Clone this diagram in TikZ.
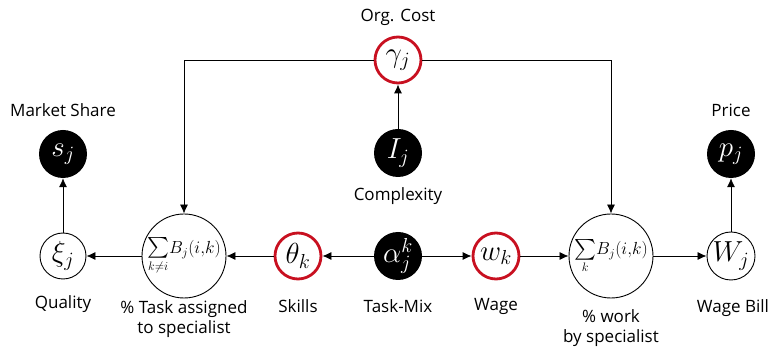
\documentclass[tikz,border=0pt]{standalone}
\usepackage{fix-cm}
\usepackage{amsmath}
\usepackage{fontspec}
\setmainfont{Open Sans}
\usetikzlibrary{arrows.meta}
\definecolor{ringred}{RGB}{200,16,32}
\begin{document}
\begin{tikzpicture}[x=1pt,y=-1pt,
  lbl/.style={font=\fontsize{17}{19}\selectfont, align=center, inner sep=0pt},
  mth/.style={font=\fontsize{29}{31}\selectfont},
  plain/.style={circle, draw=black, line width=0.9pt, minimum size=#1, inner sep=0pt, mth},
  plain/.default=46,
  redring/.style={circle, draw=ringred, line width=2.8pt, minimum size=46, inner sep=0pt, mth},
  blk/.style={circle, fill=black, text=white, minimum size=48, inner sep=0pt, mth},
  sumtext/.style={font=\fontsize{17.5}{20}\selectfont},
  arr/.style={-{Latex[length=9pt,width=8pt]}, line width=0.8pt}]
\useasboundingbox (0,0) rectangle (772,347);
% nodes
\node[redring] (g) at (398,60) {$\gamma_j$};
\node[blk] (I) at (398,153) {$I_j$};
\node[blk] (s) at (63,154) {$s_j$};
\node[blk] (p) at (731,154) {$p_j$};
\node[plain=46] (xi) at (63,256) {$\xi_j$};
\node[plain=84, sumtext] (sl) at (184,256) {$\mathop{\mbox{\fontsize{21}{21}\selectfont$\sum$}}\limits_{k\neq i}\! B_j(i{,}k)$};
\node[redring] (th) at (298,256) {$\theta_k$};
\node[blk] (al) at (398,256) {$\alpha_j^k$};
\node[redring] (w) at (496,256) {$w_k$};
\node[plain=84, sumtext] (sr) at (611,256) {$\mathop{\mbox{\fontsize{21}{21}\selectfont$\sum$}}\limits_{k}\! B_j(i{,}k)$};
\node[plain=48] (W) at (731,256) {$W_j$};
% labels
\node[lbl] (lg) at (398,17) {Org. Cost};
\node[lbl] (lI) at (398,196) {Complexity};
\node[lbl] (ls) at (63,110) {Market Share};
\node[lbl] (lp) at (731,110) {Price};
\node[lbl] (lxi) at (63,304) {Quality};
\node[lbl] (lsl) at (184,319) {\% Task assigned\\[1pt]to specialist};
\node[lbl] (lth) at (298,306) {Skills};
\node[lbl] (lal) at (398,306) {Task-Mix};
\node[lbl] (lw) at (496,306) {Wage};
\node[lbl] (lsr) at (611,328) {\% work\\[1pt]by specialist};
\node[lbl] (lW) at (733,308) {Wage Bill};
% connectors
\draw[arr] (I) -- (g);
\draw[arr] (g.west) -| (sl.north);
\draw[arr] (g.east) -| (sr.north);
\draw[arr] (al) -- (th);
\draw[arr] (th) -- (sl);
\draw[arr] (sl) -- (xi);
\draw[arr] (xi) -- (s);
\draw[arr] (al) -- (w);
\draw[arr] (w) -- (sr);
\draw[arr] (sr) -- (W);
\draw[arr] (W) -- (p);
\end{tikzpicture}
\end{document}
